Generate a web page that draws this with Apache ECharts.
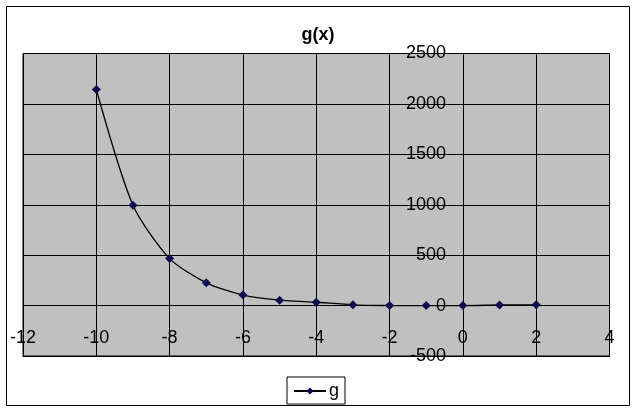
<!DOCTYPE html>
<html>
<head>
<meta charset="utf-8">
<script src="https://cdn.jsdelivr.net/npm/echarts@6/dist/echarts.min.js"></script>
<style>
html,body{margin:0;padding:0;background:#fff;}
#c{width:636px;height:412px;}
</style>
</head>
<body>
<div id="c"></div>
<script>
const xValues = [-10, -9, -8, -7, -6, -5, -4, -3, -2, -1, 0, 1, 2];
const gValues = [2143, 995, 466, 226, 104, 54, 33, 8, 1, 0, 0, 6, 8];
const seriesName = 'g';
const chartTitle = 'g(x)';

const chart = echarts.init(document.getElementById('c'), null, {renderer: 'canvas'});
const font = 'Liberation Sans, Arial, sans-serif';
chart.setOption({
  animation: false,
  backgroundColor: '#fff',
  title: {
    text: chartTitle, left: 'center', top: 21,
    textStyle: {fontFamily: font, fontSize: 18, fontWeight: 'bold', color: '#000'}
  },
  graphic: [{
    type: 'rect', shape: {x: 6.5, y: 6.5, width: 623, height: 399},
    style: {fill: null, stroke: '#000', lineWidth: 1}, z: -1
  }],
  legend: {
    left: 287, top: 377,
    padding: [5, 6, 4, 6],
    itemWidth: 32, itemHeight: 9, itemGap: 5,
    borderColor: '#000', borderWidth: 1,
    backgroundColor: '#fff',
    textStyle: {fontFamily: font, fontSize: 18, color: '#000', padding: [0, 0, 0, -2]},
    data: [seriesName]
  },
  grid: {
    left: 23, right: 26.5, top: 53.5, bottom: 56,
    outerBoundsMode: 'none', containLabel: false,
    show: true, backgroundColor: '#c0c0c0', borderColor: '#000', borderWidth: 1
  },
  xAxis: {
    type: 'value', min: -12, max: 4, interval: 2,
    axisLine: {onZero: false, lineStyle: {color: '#000', width: 1}},
    axisTick: {show: false},
    axisLabel: {fontFamily: font, fontSize: 18, color: '#000', margin: -27, formatter: v => String(v)},
    splitLine: {show: true, lineStyle: {color: '#000', width: 1}}
  },
  yAxis: {
    type: 'value', min: -500, max: 2500, interval: 500,
    axisLine: {onZero: false, lineStyle: {color: '#000', width: 1}},
    axisTick: {show: false},
    axisLabel: {fontFamily: font, fontSize: 18, color: '#000', margin: -423, formatter: v => String(v)},
    splitLine: {show: true, lineStyle: {color: '#000', width: 1}}
  },
  series: [{
    name: seriesName, type: 'line',
    data: xValues.map((x, i) => [x, gValues[i]]),
    smooth: 0.25,
    symbol: 'diamond', symbolSize: 9,
    itemStyle: {color: '#0b0b4f'},
    lineStyle: {color: '#000', width: 1.3},
    z: 5
  }]
});
</script>
</body>
</html>
